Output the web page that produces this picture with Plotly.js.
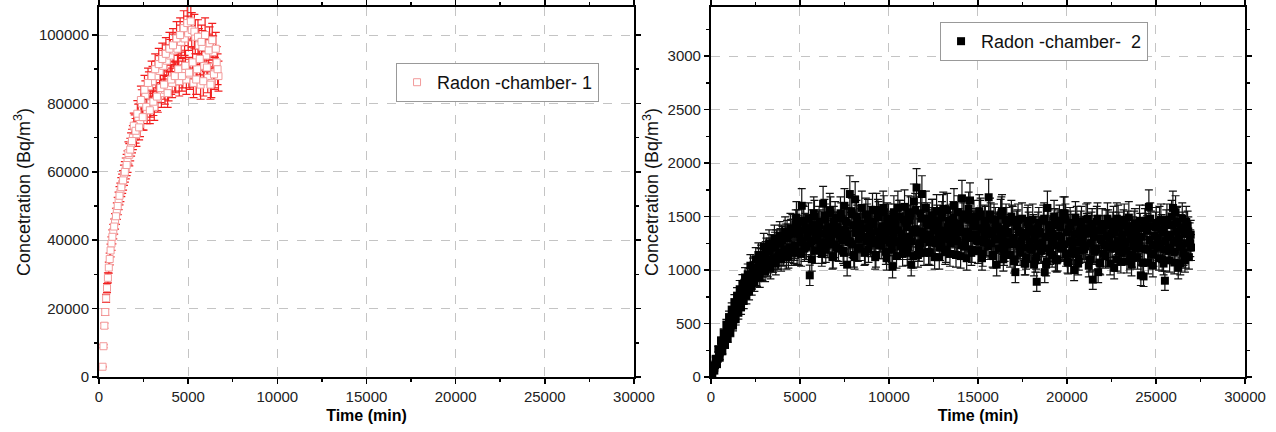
<!DOCTYPE html>
<html>
<head>
<meta charset="utf-8">
<script src="https://cdn.plot.ly/plotly-3.0.1.min.js"></script>
<style>html,body{margin:0;padding:0;background:#fff}#chart{width:1276px;height:432px}</style>
</head>
<body>
<div id="chart"></div>
<script>
// Chamber 1 : time (min) and radon concentration (Bq/m3), two interleaved read-outs
const time1a = [200,300,400,500,600,700,800,900,1000,1100,1200,1300,1400,1500,1600,1700,1800,1900,2000,2100,2200,2300,2400,2500,2600,2700,2800,2900,3000,3100,3200,3300,3400,3500,3600,3700,3800,3900,4000,4100,4200,4300,4400,4500,4600,4700,4800,4900,5000,5100,5200,5300,5400,5500,5600,5700,5800,5900,6000,6100,6200,6300,6400,6500,6600,6700];
const conc1a = [3000,15000,23000,29000,34500,39000,42500,45500,48500,51500,54000,56500,59000,61000,63000,65000,68000,70000,73000,71000,76000,74000,80000,76000,82500,78000,85000,80000,86500,79000,88000,81500,89500,83000,91000,84000,92500,85000,94000,86000,95500,87500,96000,86500,98000,89000,99000,87000,100500,88500,101500,86000,99500,90000,97000,85500,96500,91000,94000,87500,97500,86000,95000,89000,92000,88000];
const time1b = [250,350,450,550,650,750,850,950,1050,1150,1250,1350,1450,1550,1650,1750,1850,1950,2050,2150,2250,2350,2450,2550,2650,2750,2850,2950,3050,3150,3250,3350,3450,3550,3650,3750,3850,3950,4050,4150,4250,4350,4450,4550,4650,4750,4850,4950,5050,5150,5250,5350,5450,5550,5650,5750,5850,5950,6050,6150,6250,6350,6450,6550,6650];
const conc1b = [9000,19000,26000,32000,37000,41000,44000,47000,50000,53000,55500,57500,60000,62000,65500,66500,69000,73500,72000,77000,73000,81000,76000,84000,79000,86000,78000,88000,80500,90000,82000,91500,84500,93000,85500,94500,83000,96000,87000,97000,88000,99000,90000,100000,88000,102000,91000,103500,89000,104000,92000,101000,87000,99500,93000,98000,86500,100000,90500,95500,85500,98500,88500,96000,90000];

// Chamber 2 : four interleaved read-outs
const time2a = [0,150,300,450,600,750,900,1050,1200,1350,1500,1650,1800,1950,2100,2250,2400,2550,2700,2850,3000,3150,3300,3450,3600,3750,3900,4050,4200,4350,4500,4650,4800,4950,5100,5250,5400,5550,5700,5850,6000,6150,6300,6450,6600,6750,6900,7050,7200,7350,7500,7650,7800,7950,8100,8250,8400,8550,8700,8850,9000,9150,9300,9450,9600,9750,9900,10050,10200,10350,10500,10650,10800,10950,11100,11250,11400,11550,11700,11850,12000,12150,12300,12450,12600,12750,12900,13050,13200,13350,13500,13650,13800,13950,14100,14250,14400,14550,14700,14850,15000,15150,15300,15450,15600,15750,15900,16050,16200,16350,16500,16650,16800,16950,17100,17250,17400,17550,17700,17850,18000,18150,18300,18450,18600,18750,18900,19050,19200,19350,19500,19650,19800,19950,20100,20250,20400,20550,20700,20850,21000,21150,21300,21450,21600,21750,21900,22050,22200,22350,22500,22650,22800,22950,23100,23250,23400,23550,23700,23850,24000,24150,24300,24450,24600,24750,24900,25050,25200,25350,25500,25650,25800,25950,26100,26250,26400,26550,26700,26850,26950];
const conc2a = [0,70,140,200,280,330,420,470,560,590,680,700,790,810,880,900,980,950,1060,1010,1120,1050,1180,1090,1230,1120,1260,1150,1300,1130,1340,1180,1490,1160,1600,1200,1380,950,1420,1180,1350,1250,1620,1190,1400,1280,1450,1210,1370,1300,1600,1050,1710,1240,1660,1200,1430,1310,1520,1190,1450,1280,1560,1230,1390,1350,1480,1260,1030,1420,1580,1220,1470,1300,1540,1050,1640,1770,1200,1710,1330,1480,1160,1510,1250,1440,1310,1570,1190,1460,1350,1600,1270,1410,1670,1220,1500,1650,1300,1430,1180,1520,1260,1390,1680,1250,1470,1050,1380,1550,1200,1340,1140,1450,980,1470,1230,1310,1120,1400,1190,1050,890,1360,1250,980,1580,1170,1340,1100,1420,1210,1530,1150,1380,1260,1000,1450,1180,1320,1230,1480,1100,910,1370,980,1290,1150,1420,1210,1340,1020,1480,1170,1300,1250,1410,1120,1360,1200,1280,950,940,1390,1590,1150,1320,1230,1450,1100,900,1310,1190,1580,1540,1020,1380,1160,1450,1120,1330];
const time2b = [75,225,375,525,675,825,975,1125,1275,1425,1575,1725,1875,2025,2175,2325,2475,2625,2775,2925,3075,3225,3375,3525,3675,3825,3975,4125,4275,4425,4575,4725,4875,5025,5175,5325,5475,5625,5775,5925,6075,6225,6375,6525,6675,6825,6975,7125,7275,7425,7575,7725,7875,8025,8175,8325,8475,8625,8775,8925,9075,9225,9375,9525,9675,9825,9975,10125,10275,10425,10575,10725,10875,11025,11175,11325,11475,11625,11775,11925,12075,12225,12375,12525,12675,12825,12975,13125,13275,13425,13575,13725,13875,14025,14175,14325,14475,14625,14775,14925,15075,15225,15375,15525,15675,15825,15975,16125,16275,16425,16575,16725,16875,17025,17175,17325,17475,17625,17775,17925,18075,18225,18375,18525,18675,18825,18975,19125,19275,19425,19575,19725,19875,20025,20175,20325,20475,20625,20775,20925,21075,21225,21375,21525,21675,21825,21975,22125,22275,22425,22575,22725,22875,23025,23175,23325,23475,23625,23775,23925,24075,24225,24375,24525,24675,24825,24975,25125,25275,25425,25575,25725,25875,26025,26175,26325,26475,26625,26775,26925];
const conc2b = [30,110,170,240,310,380,450,500,580,640,700,760,830,850,920,960,1020,990,1090,1040,1150,1080,1210,1110,1250,1160,1290,1190,1330,1210,1380,1230,1420,1260,1460,1220,1480,1270,1530,1300,1450,1150,1510,1330,1560,1120,1490,1340,1530,1180,1460,1270,1550,1140,1500,1380,1580,1160,1470,1330,1560,1120,1510,1300,1580,1170,1470,1360,1540,1130,1500,1280,1590,1160,1460,1350,1560,1140,1530,1290,1580,1170,1440,1370,1550,1120,1490,1300,1560,1150,1470,1340,1540,1130,1480,1310,1570,1160,1500,1280,1550,1110,1460,1330,1520,1140,1440,1290,1510,1100,1470,1260,1500,1080,1410,1230,1480,1060,1440,1210,1470,1090,1400,1180,1460,1050,1420,1260,1500,1090,1460,1200,1530,1080,1440,1170,1490,1060,1410,1220,1470,1040,1400,1190,1450,1070,1430,1230,1480,1060,1400,1200,1460,1080,1420,1180,1490,1050,1410,1240,1460,1070,1430,1190,1480,1040,1400,1210,1470,1060,1420,1180,1500,1070,1440,1220,1480,1090,1410,1250];
const time2c = [40,190,340,490,640,790,940,1090,1240,1390,1540,1690,1840,1990,2140,2290,2440,2590,2740,2890,3040,3190,3340,3490,3640,3790,3940,4090,4240,4390,4540,4690,4840,4990,5140,5290,5440,5590,5740,5890,6040,6190,6340,6490,6640,6790,6940,7090,7240,7390,7540,7690,7840,7990,8140,8290,8440,8590,8740,8890,9040,9190,9340,9490,9640,9790,9940,10090,10240,10390,10540,10690,10840,10990,11140,11290,11440,11590,11740,11890,12040,12190,12340,12490,12640,12790,12940,13090,13240,13390,13540,13690,13840,13990,14140,14290,14440,14590,14740,14890,15040,15190,15340,15490,15640,15790,15940,16090,16240,16390,16540,16690,16840,16990,17140,17290,17440,17590,17740,17890,18040,18190,18340,18490,18640,18790,18940,19090,19240,19390,19540,19690,19840,19990,20140,20290,20440,20590,20740,20890,21040,21190,21340,21490,21640,21790,21940,22090,22240,22390,22540,22690,22840,22990,23140,23290,23440,23590,23740,23890,24040,24190,24340,24490,24640,24790,24940,25090,25240,25390,25540,25690,25840,25990,26140,26290,26440,26590,26740,26890];
const conc2c = [10,60,120,180,240,300,360,420,480,540,600,650,710,760,800,850,890,940,930,1000,990,1040,1020,1090,1060,1120,1100,1160,1120,1190,1160,1210,1170,
  1330,1270,1390,1310,1250,1360,1290,1410,1340,1260,1380,1300,1350,1240,1400,1320,1280,1370,1330,1260,1420,1350,1290,1380,1310,1270,1400,1340,1250,1360,
  1300,1410,1330,1280,1390,1320,1260,1370,1340,1290,1400,1310,1270,1380,1350,1250,1360,1300,1420,1330,1280,1390,1320,1260,1370,1340,1290,1400,1310,1270,
  1380,1350,1250,1360,1300,1410,1330,1280,1390,1320,1260,1370,1340,1290,1400,1310,1270,1380,1350,1250,
  1300,1240,1350,1270,1210,1330,1260,1360,1290,1220,1340,1250,1310,1200,1370,1280,1230,1320,1300,1240,1350,1270,1210,1330,1260,1360,1290,1220,1340,1250,
  1310,1200,1370,1280,1230,1320,1300,1240,1350,1270,1210,1330,1260,1360,1290,1220,1340,1250,1310,1200,1370,1280,1230,1320,1300,1240,1350,1270,1210,1330,
  1260,1360,1290,1220,1340,1250,1310];
const time2d = [115,265,415,565,715,865,1015,1165,1315,1465,1615,1765,1915,2065,2215,2365,2515,2665,2815,2965,3115,3265,3415,3565,3715,3865,4015,4165,4315,4465,4615,4765,4915,5065,5215,5365,5515,5665,5815,5965,6115,6265,6415,6565,6715,6865,7015,7165,7315,7465,7615,7765,7915,8065,8215,8365,8515,8665,8815,8965,9115,9265,9415,9565,9715,9865,10015,10165,10315,10465,10615,10765,10915,11065,11215,11365,11515,11665,11815,11965,12115,12265,12415,12565,12715,12865,13015,13165,13315,13465,13615,13765,13915,14065,14215,14365,14515,14665,14815,14965,15115,15265,15415,15565,15715,15865,16015,16165,16315,16465,16615,16765,16915,17065,17215,17365,17515,17665,17815,17965,18115,18265,18415,18565,18715,18865,19015,19165,19315,19465,19615,19765,19915,20065,20215,20365,20515,20665,20815,20965,21115,21265,21415,21565,21715,21865,22015,22165,22315,22465,22615,22765,22915,23065,23215,23365,23515,23665,23815,23965,24115,24265,24415,24565,24715,24865,25015,25165,25315,25465,25615,25765,25915,26065,26215,26365,26515,26665,26815,26965];
const conc2d = [80,170,260,340,410,490,560,630,700,760,820,870,930,960,1040,1010,1100,1140,1120,1220,1180,1250,1210,1290,1250,1320,1280,1360,1300,1390,1340,1420,1370,
  1150,1450,1220,1380,1100,1500,1280,1420,1180,1470,1240,1530,1130,1400,1200,1480,1160,1440,1260,1520,1120,1460,1210,1390,1170,1510,1250,1430,1140,1490,
  1230,1540,1110,1410,1190,1470,1270,1500,1150,1450,1220,1530,1130,1380,1200,1480,1160,1440,1260,1510,1120,1460,1210,1550,1170,1400,1250,1490,1140,1430,
  1230,1520,1110,1470,1190,1410,1270,1500,1150,1450,1220,1480,1130,1390,1200,1530,1160,1440,1240,1460,
  1100,1420,1160,1350,1060,1460,1200,1380,1120,1440,1180,1480,1080,1360,1140,1430,1100,1400,1220,1470,1070,1410,1150,1340,1110,1450,1190,1390,1090,1430,
  1170,1480,1060,1370,1130,1420,1210,1450,1100,1400,1160,1470,1080,1350,1140,1430,1120,1390,1200,1460,1070,1410,1150,1440,1110,1380,1190,1470,1090,1420,
  1170,1450,1060,1400,1130,1360,1210];

const name1 = 'Radon -chamber- 1';
const name2 = 'Radon -chamber-  2';
const xTitle = 'Time (min)';
const yTitle = 'Concetration (Bq/m<sup>3</sup>)';

const time1 = time1a.concat(time1b), conc1 = conc1a.concat(conc1b);
const time2 = time2c.concat(time2d, time2b, time2a), conc2 = conc2c.concat(conc2d, conc2b, conc2a);

const traces = [
  {x: time1, y: conc1, type: 'scatter', mode: 'markers', name: name1, xaxis: 'x', yaxis: 'y', legend: 'legend',
   marker: {symbol: 'square', size: 7, color: '#ffffff', line: {color: '#f29a9a', width: 1}},
   error_y: {type: 'percent', value: 5, color: '#f22020', thickness: 1.2, width: 4}},
  {x: time2, y: conc2, type: 'scatter', mode: 'markers', name: name2, xaxis: 'x2', yaxis: 'y2', legend: 'legend2',
   marker: {symbol: 'square', size: 8, color: '#000000'},
   error_y: {type: 'percent', value: 10, color: '#111111', thickness: 1.2, width: 4}}
];

const FONT = 'Liberation Sans, Arial, sans-serif';
const tickFont = {family: FONT, size: 15, color: '#222'};
function xax(domain, anchor) {
  return {domain: domain, anchor: anchor, range: [0, 30000], dtick: 5000, tick0: 0,
    showline: true, linecolor: '#000', linewidth: 2, mirror: 'allticks',
    ticks: 'outside', ticklen: 5, tickwidth: 1.5, tickcolor: '#000',
    minor: {dtick: 2500, ticks: 'outside', ticklen: 3, tickcolor: '#000', showgrid: false},
    showgrid: true, gridcolor: '#c4c4c4', griddash: 'dash', gridwidth: 1,
    zeroline: false, tickfont: tickFont, tickformat: 'd',
    title: {text: xTitle, font: {family: FONT, size: 16, color: '#000', weight: 'bold'}, standoff: 6}};
}
function yax(range, dtick, minor, anchor) {
  return {domain: [0, 1], anchor: anchor, range: range, dtick: dtick, tick0: 0,
    showline: true, linecolor: '#000', linewidth: 2, mirror: 'allticks',
    ticks: 'outside', ticklen: 5, tickwidth: 1.5, tickcolor: '#000',
    minor: {dtick: minor, ticks: 'outside', ticklen: 3, tickcolor: '#000', showgrid: false},
    showgrid: true, gridcolor: '#c4c4c4', griddash: 'dash', gridwidth: 1,
    zeroline: false, tickfont: tickFont, tickformat: 'd',
    title: {text: yTitle, font: {family: FONT, size: 18, color: '#111'}, standoff: 4}};
}

const layout = {
  width: 1276, height: 432,
  margin: {l: 99, r: 31, t: 7, b: 55},
  paper_bgcolor: '#fff', plot_bgcolor: '#fff',
  showlegend: true,
  xaxis: xax([0, 0.4668], 'y'),
  yaxis: yax([0, 108200], 20000, 10000, 'x'),
  xaxis2: xax([0.534, 1], 'y2'),
  yaxis2: yax([0, 3458], 500, 250, 'x2'),
  legend: {x: 0.2592, y: 0.8486, xanchor: 'left', yanchor: 'top', bgcolor: '#fff',
    bordercolor: '#999', borderwidth: 1, font: {family: FONT, size: 18, color: '#111'}},
  legend2: {x: 0.7339, y: 0.9595, xanchor: 'left', yanchor: 'top', bgcolor: '#fff',
    bordercolor: '#999', borderwidth: 1, font: {family: FONT, size: 18, color: '#111'}}
};

Plotly.newPlot('chart', traces, layout, {displayModeBar: false, staticPlot: true});
</script>
</body>
</html>
